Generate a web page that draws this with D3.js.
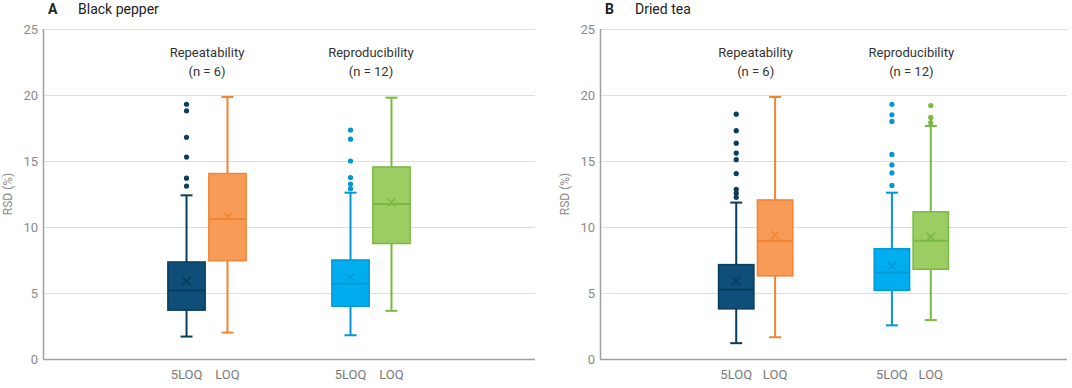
<!DOCTYPE html>
<html lang="en">
<head>
<meta charset="utf-8">
<title>RSD box plots</title>
<script src="https://cdn.jsdelivr.net/npm/d3@7"></script>
<style>
    body { margin: 0; background: #fff; font-family: Roboto, "Noto Sans", sans-serif; }
    .grid line { stroke: #dedede; shape-rendering: crispEdges; }
    .tick-label { fill: #8a8a8a; font-size: 13px; }
    .cat-label { fill: #7a7a7a; font-size: 13px; }
    .group-label { fill: #333; font-size: 13px; }
</style>
</head>
<body>
<svg id="chart" width="1072" height="388"></svg>
<script>
    // y axis
    var yTicks = [0, 5, 10, 15, 20, 25];
    var groups = ["Repeatability", "Reproducibility"];
    var groupN = [6, 12];
    var methods = ["5LOQ", "LOQ"];

    // order of the four boxes: Repeatability 5LOQ, Repeatability LOQ, Reproducibility 5LOQ, Reproducibility LOQ
    var pepperMin = [1.7, 2.0, 1.8, 3.65];
    var pepperQ1 = [3.7, 7.45, 4.0, 8.75];
    var pepperMedian = [5.2, 10.6, 5.7, 11.75];
    var pepperQ3 = [7.35, 14.05, 7.5, 14.55];
    var pepperMax = [12.4, 19.85, 12.6, 19.8];
    var pepperMean = [5.9, 10.8, 6.2, 11.85];
    var pepperOutliers = [[19.3, 18.8, 16.8, 15.3, 13.7, 13.1], [], [17.35, 16.65, 15.0, 13.75, 13.25, 12.9], []];

    var teaMin = [1.2, 1.65, 2.55, 2.95];
    var teaQ1 = [3.8, 6.3, 5.2, 6.8];
    var teaMedian = [5.25, 8.95, 6.55, 8.95];
    var teaQ3 = [7.15, 12.05, 8.35, 11.15];
    var teaMax = [11.85, 19.85, 12.6, 17.65];
    var teaMean = [5.9, 9.4, 7.05, 9.25];
    var teaOutliers = [[18.55, 17.3, 16.35, 15.6, 15.1, 14.05, 12.85, 12.55, 12.25], [], [19.3, 18.5, 18.0, 15.5, 14.7, 14.1, 13.15], [19.2, 18.3, 17.9]];

    var fills = ["#0e4e78", "#f79b57", "#00aeef", "#9ccd63"];
    var strokes = ["#0a3c5e", "#ef8535", "#0097d4", "#7bb842"];

    function buildBoxes(mins, q1, med, q3, maxs, means, outs) {
        return q1.map(function (d, i) {
            return {
                group: groups[Math.floor(i / 2)],
                method: methods[i % 2],
                idx: i,
                min: mins[i], q1: d, median: med[i], q3: q3[i], max: maxs[i],
                mean: means[i], outliers: outs[i]
            };
        });
    }

    var svg = d3.select("#chart");

    function drawPanel(opt) {
        var width = opt.width, height = 330;
        var g = svg.append("g")
            .attr("transform", "translate(" + opt.left + "," + opt.top + ")");

        var y = d3.scaleLinear().domain([0, 25]).range([height, 0]);
        var gx = d3.scalePoint().domain(groups).range([0, width]).padding(1);
        var r = width * 0.087;
        var inner = d3.scaleBand().domain(methods).range([-r, r]).padding(0.09);
        var bw = inner.bandwidth();

        // gridlines
        g.append("g").attr("class", "grid")
            .selectAll("line").data(yTicks.filter(function (d) { return d > 0; }))
            .enter().append("line")
            .attr("x1", 0).attr("x2", width)
            .attr("y1", function (d) { return Math.round(y(d)) + 0.5; })
            .attr("y2", function (d) { return Math.round(y(d)) + 0.5; });

        // axes lines
        g.append("line")
            .attr("x1", 0.5).attr("x2", 0.5).attr("y1", 0).attr("y2", height)
            .attr("stroke", "#a0a0a0").attr("stroke-width", 1.5);
        g.append("line")
            .attr("x1", 0).attr("x2", width).attr("y1", height + 0.5).attr("y2", height + 0.5)
            .attr("stroke", "#a0a0a0").attr("stroke-width", 1.5);

        g.selectAll(".tick-label").data(yTicks).enter().append("text")
            .attr("class", "tick-label")
            .attr("x", -5).attr("y", function (d) { return y(d); })
            .attr("dy", "0.35em")
            .attr("text-anchor", "end")
            .text(function (d) { return d; });

        g.append("text")
            .attr("transform", "translate(" + (-35) + "," + (height / 2) + ") rotate(-90)")
            .attr("text-anchor", "middle")
            .attr("dy", "0.35em")
            .style("font-size", "12px")
            .style("fill", "#8a8a8a")
            .text("RSD (%)");

        // panel title
        var title = svg.append("text")
            .attr("x", opt.left + 5).attr("y", 14)
            .style("font-size", "14px").style("fill", "#222");
        title.append("tspan").style("font-weight", "bold").text(opt.letter);
        title.append("tspan").attr("x", opt.left + 35).text(opt.name);

        // group labels
        groups.forEach(function (grp, i) {
            var t = g.append("text").attr("class", "group-label")
                .attr("text-anchor", "middle");
            t.append("tspan").attr("x", gx(grp)).attr("y", 28).text(grp);
            t.append("tspan").attr("x", gx(grp)).attr("y", 47).text("(n = " + groupN[i] + ")");
        });

        var boxes = g.selectAll(".box").data(opt.data).enter().append("g")
            .attr("class", "box")
            .attr("transform", function (d) {
                return "translate(" + (gx(d.group) + inner(d.method) + bw / 2) + ",0)";
            });

        // whiskers
        boxes.append("line")
            .attr("x1", 0).attr("x2", 0)
            .attr("y1", function (d) { return y(d.max); })
            .attr("y2", function (d) { return y(d.min); })
            .attr("stroke", function (d) { return strokes[d.idx]; })
            .attr("stroke-width", 2);
        ["min", "max"].forEach(function (k) {
            boxes.append("line")
                .attr("x1", -6).attr("x2", 6)
                .attr("y1", function (d) { return y(d[k]); })
                .attr("y2", function (d) { return y(d[k]); })
                .attr("stroke", function (d) { return strokes[d.idx]; })
                .attr("stroke-width", 2);
        });

        // box
        boxes.append("rect")
            .attr("x", -bw / 2).attr("width", bw)
            .attr("y", function (d) { return y(d.q3); })
            .attr("height", function (d) { return y(d.q1) - y(d.q3); })
            .attr("fill", function (d) { return fills[d.idx]; })
            .attr("stroke", function (d) { return strokes[d.idx]; })
            .attr("stroke-width", 1.5);

        // median
        boxes.append("line")
            .attr("x1", -bw / 2).attr("x2", bw / 2)
            .attr("y1", function (d) { return y(d.median); })
            .attr("y2", function (d) { return y(d.median); })
            .attr("stroke", function (d) { return strokes[d.idx]; })
            .attr("stroke-width", 2);

        // mean cross
        boxes.append("path")
            .attr("d", function (d) {
                var cy = y(d.mean), s = 4;
                return "M" + (-s) + "," + (cy - s) + "L" + s + "," + (cy + s) +
                    "M" + s + "," + (cy - s) + "L" + (-s) + "," + (cy + s);
            })
            .attr("stroke", function (d) { return strokes[d.idx]; })
            .attr("stroke-width", 1.5).attr("fill", "none");

        // outliers
        boxes.selectAll(".out").data(function (d) {
            return d.outliers.map(function (v) { return { v: v, idx: d.idx }; });
        }).enter().append("circle")
            .attr("cx", 0).attr("cy", function (d) { return y(d.v); })
            .attr("r", 2.6)
            .attr("fill", function (d) { return strokes[d.idx]; });

        // category labels
        boxes.append("text").attr("class", "cat-label")
            .attr("text-anchor", "middle")
            .attr("y", height + 20)
            .text(function (d) { return d.method; });
    }

    drawPanel({
        left: 43, top: 29, width: 492, letter: "A", name: "Black pepper",
        data: buildBoxes(pepperMin, pepperQ1, pepperMedian, pepperQ3, pepperMax, pepperMean, pepperOutliers)
    });
    drawPanel({
        left: 600, top: 29, width: 467, letter: "B", name: "Dried tea",
        data: buildBoxes(teaMin, teaQ1, teaMedian, teaQ3, teaMax, teaMean, teaOutliers)
    });
</script>
</body>
</html>
